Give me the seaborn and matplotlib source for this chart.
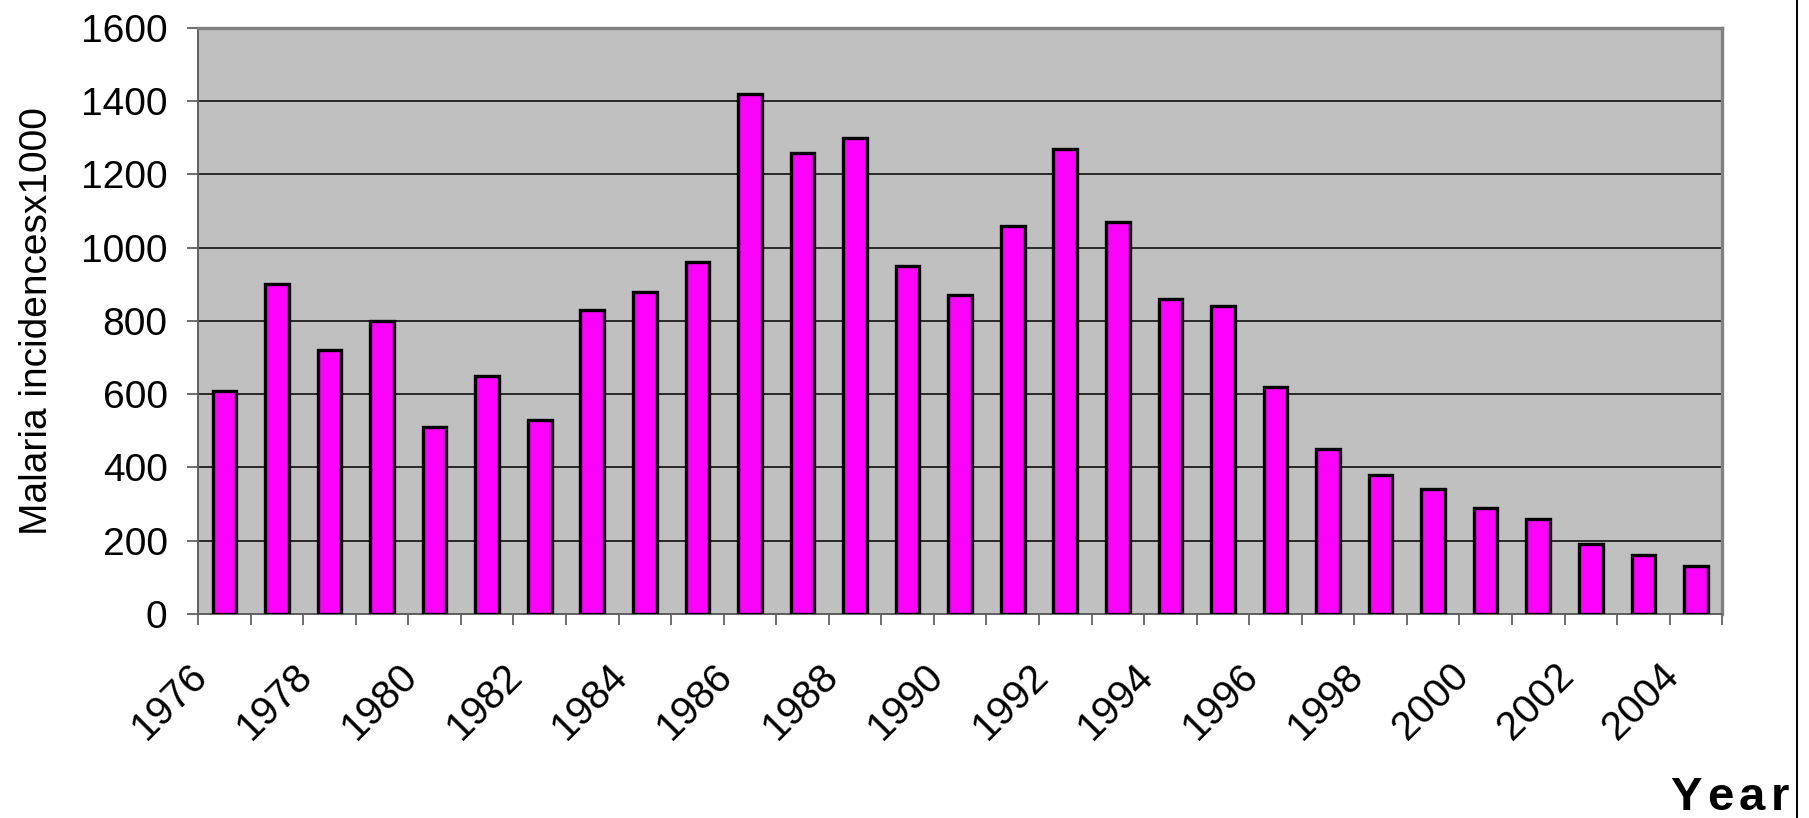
import matplotlib
matplotlib.use("Agg")
import matplotlib.pyplot as plt
import matplotlib.transforms as mtransforms
import seaborn as sns
import pandas as pd
from matplotlib.lines import Line2D
from matplotlib.ticker import FixedLocator

# Annual malaria incidences (thousands), 1976-2004
years = list(range(1976, 2005))
incidences = [610, 900, 720, 800, 510, 650, 530, 830, 880, 960,
              1420, 1260, 1300, 950, 870, 1060, 1270, 1070, 860, 840,
              620, 450, 380, 340, 290, 260, 190, 160, 130]
y_ticks = [0, 200, 400, 600, 800, 1000, 1200, 1400, 1600]
label_years = list(range(1976, 2005, 2))

df = pd.DataFrame({"year": [str(y) for y in years], "cases": incidences})

sns.set_theme(style="white")
plt.rcParams["font.family"] = ["Liberation Sans", "DejaVu Sans"]
plt.rcParams["text.color"] = "black"
plt.rcParams["axes.labelcolor"] = "black"
plt.rcParams["xtick.color"] = "black"
plt.rcParams["ytick.color"] = "black"

fig = plt.figure(figsize=(18.09, 8.18), dpi=100)
ax = fig.add_axes([0.1095, 0.2494, 0.8425, 0.7164])
ax.set_facecolor("#C0C0C0")

sns.barplot(data=df, x="year", y="cases", color="#FF00FF", saturation=1,
            width=0.45, edgecolor="black", linewidth=2.4, ax=ax, zorder=3)

ax.set_xlim(-0.5, len(years) - 0.5)
ax.set_ylim(0, 1600)
ax.set_yticks(y_ticks)
ax.set_yticklabels([str(v) for v in y_ticks], fontsize=28)
ax.yaxis.grid(True, color="black", linewidth=1.1, zorder=1)
ax.set_axisbelow(True)

# labels every second year, tick marks at category boundaries
label_pos = [years.index(y) for y in label_years]
ax.xaxis.set_major_locator(FixedLocator(label_pos))
ax.xaxis.set_minor_locator(FixedLocator([i - 0.5 for i in range(len(years) + 1)]))
ax.tick_params(axis="x", which="major", length=0, pad=40)
ax.tick_params(axis="x", which="minor", length=8, width=1.2, color="#555555",
               direction="out", bottom=True)
ax.tick_params(axis="y", which="major", length=8, width=1.2, color="#555555",
               direction="out", left=True, pad=14)
ax.set_xticklabels([str(y) for y in label_years], fontsize=29,
                   rotation=45, ha="right", va="center", rotation_mode="anchor")
shift = mtransforms.ScaledTranslation(-0.23, 0, fig.dpi_scale_trans)
for lab in ax.get_xticklabels():
    lab.set_transform(lab.get_transform() + shift)

ax.set_xlabel("")
ax.set_ylabel("Malaria incidencesx1000", fontsize=28, color="black",
              family=["Liberation Sans Narrow", "Liberation Sans"], labelpad=19)

for side in ("top", "right"):
    ax.spines[side].set_color("#808080")
    ax.spines[side].set_linewidth(2.4)
for side in ("left", "bottom"):
    ax.spines[side].set_color("#606060")
    ax.spines[side].set_linewidth(1.4)

# "Year" caption, letter-spaced, right-aligned at the bottom corner
renderer = fig.canvas.get_renderer()
x_px = 0.989 * fig.bbox.width
y_fig = 0.0098
gap_px = 5.5
for ch in reversed("Year"):
    t = fig.text(x_px / fig.bbox.width, y_fig, ch, ha="right", va="baseline",
                 fontsize=34, fontweight="bold", color="black")
    w = t.get_window_extent(renderer=renderer).width
    x_px -= w + gap_px

fig.add_artist(Line2D([0.9935, 0.9935], [0, 1], transform=fig.transFigure,
                      color="black", linewidth=1.4))

fig.savefig("out.png", dpi=100)
